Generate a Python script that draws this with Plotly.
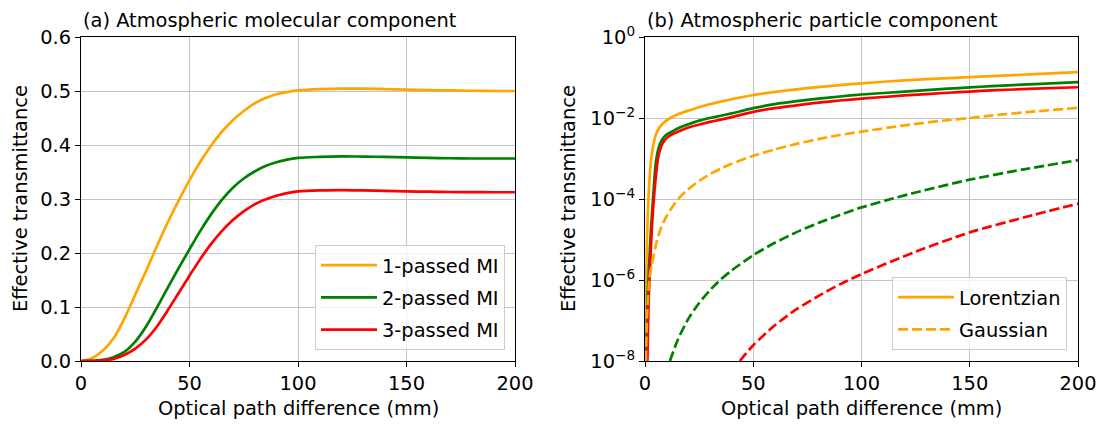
import plotly.graph_objects as go

# ---------------- (a) molecular component ----------------
opd_a = [0, 5, 10, 15, 20, 25, 30, 35, 40, 45, 50, 55, 60, 65, 70, 75, 80, 85, 90, 95,
         100, 110, 120, 130, 140, 150, 160, 170, 180, 190, 200]
mi1 = [0, 0.005, 0.019, 0.042, 0.079, 0.123, 0.167, 0.213, 0.257, 0.297, 0.335, 0.369, 0.399,
       0.425, 0.446, 0.463, 0.477, 0.487, 0.494, 0.498, 0.501, 0.5035, 0.5045, 0.5043, 0.5035,
       0.5025, 0.5015, 0.501, 0.5005, 0.5, 0.5]
mi2 = [0, 0.0003, 0.002, 0.007, 0.017, 0.036, 0.064, 0.099, 0.136, 0.172, 0.207, 0.241, 0.272,
       0.299, 0.321, 0.338, 0.351, 0.361, 0.368, 0.373, 0.376, 0.378, 0.379, 0.3785, 0.378,
       0.377, 0.376, 0.3755, 0.375, 0.375, 0.375]
mi3 = [0, 0.0002, 0.001, 0.004, 0.011, 0.023, 0.04, 0.064, 0.094, 0.126, 0.158, 0.189, 0.217,
       0.241, 0.261, 0.277, 0.29, 0.299, 0.306, 0.311, 0.314, 0.316, 0.3165, 0.316, 0.315,
       0.314, 0.3135, 0.313, 0.3128, 0.3125, 0.3125]
names_a = ["1-passed MI", "2-passed MI", "3-passed MI"]

# ---------------- (b) particle component ----------------
lor1_x = [0.3, 0.6, 1.1, 1.7, 2.8, 4, 5.5, 7.1, 9, 11.7, 15, 20, 26, 30, 40, 50, 60, 70, 80,
          90, 100, 120, 140, 150, 160, 180, 200]
lor1_y = [1e-8, 1.6e-6, 2e-5, 1.4e-4, 9.3e-4, 2.4e-3, 4.5e-3, 6.2e-3, 8e-3, 1.0e-2, 1.22e-2,
          1.52e-2, 1.93e-2, 2.2e-2, 2.9e-2, 3.7e-2, 4.4e-2, 5.1e-2, 5.8e-2, 6.5e-2, 7.2e-2,
          8.5e-2, 9.7e-2, 0.102, 0.108, 0.121, 0.135]
lor2_x = [0.5, 1.2, 2.0, 2.8, 3.7, 5, 6.5, 8, 10, 13, 16, 20, 25, 30, 35, 40, 50, 60, 70, 80,
          90, 100, 120, 140, 150, 160, 180, 200]
lor2_y = [1e-8, 4e-7, 3e-6, 2e-5, 1e-4, 8e-4, 2e-3, 3e-3, 3.9e-3, 4.8e-3, 5.8e-3, 7.0e-3,
          8.6e-3, 1.0e-2, 1.14e-2, 1.3e-2, 1.75e-2, 2.2e-2, 2.6e-2, 3.0e-2, 3.4e-2, 3.8e-2,
          4.5e-2, 5.3e-2, 5.7e-2, 6.1e-2, 6.9e-2, 7.7e-2]
lor3_x = [1.1, 1.4, 1.8, 2.5, 3.2, 4.3, 6, 7.5, 9, 10.5, 13, 16, 20, 26, 30, 35, 40, 50, 60,
          70, 80, 90, 100, 120, 140, 150, 160, 180, 200]
lor3_y = [1e-8, 7e-8, 4.7e-7, 3.2e-6, 2.1e-5, 1.4e-4, 1e-3, 2e-3, 2.8e-3, 3.4e-3, 4.1e-3,
          4.8e-3, 5.8e-3, 7.1e-3, 8e-3, 9.1e-3, 1.05e-2, 1.42e-2, 1.75e-2, 2.05e-2, 2.4e-2,
          2.7e-2, 3.0e-2, 3.6e-2, 4.2e-2, 4.5e-2, 4.8e-2, 5.3e-2, 5.75e-2]
gau1_x = [0.4, 1.0, 2.0, 3.1, 5.4, 7.5, 10, 13, 16, 20, 25, 30, 35, 40, 50, 60, 70, 80, 90,
          100, 120, 140, 150, 160, 180, 200]
gau1_y = [1e-8, 1.5e-7, 1e-6, 2.3e-6, 8.8e-6, 2e-5, 3.8e-5, 6.8e-5, 1.1e-4, 1.74e-4, 2.8e-4,
          4.1e-4, 5.6e-4, 7.4e-4, 1.17e-3, 1.68e-3, 2.3e-3, 3.0e-3, 3.8e-3, 4.6e-3, 6.6e-3,
          8.9e-3, 1.0e-2, 1.15e-2, 1.45e-2, 1.78e-2]
gau2_x = [11.5, 15, 20, 25, 30, 35, 40, 50, 60, 70, 80, 90, 100, 115, 125, 150, 175, 200]
gau2_y = [1e-8, 3.2e-8, 1.1e-7, 2.7e-7, 5.6e-7, 1.03e-6, 1.72e-6, 4.1e-6, 8.3e-6, 1.52e-5,
          2.55e-5, 4.05e-5, 6.2e-5, 1.05e-4, 1.45e-4, 3e-4, 5.4e-4, 9.1e-4]
gau3_x = [43.8, 50, 60, 70, 80, 90, 100, 125, 150, 175, 200]
gau3_y = [1e-8, 2.45e-8, 7.6e-8, 1.9e-7, 4.0e-7, 7.8e-7, 1.4e-6, 5e-6, 1.5e-5, 3.5e-5, 7.7e-5]

colors = ["#FFA500", "#008000", "#FF0000"]
FONT = "DejaVu Sans"
FS = 19.4
LW = 2.7
DASH = "10px,4px"

fig = go.Figure()

for i, (ys, nm) in enumerate(zip([mi1, mi2, mi3], names_a)):
    fig.add_trace(go.Scatter(x=opd_a, y=ys, mode="lines", name=nm,
                             line=dict(color=colors[i], width=LW, shape="spline", smoothing=1.0),
                             xaxis="x", yaxis="y", legend="legend", legendgroup=f"a{i}"))

lor = [(lor1_x, lor1_y), (lor2_x, lor2_y), (lor3_x, lor3_y)]
gau = [(gau1_x, gau1_y), (gau2_x, gau2_y), (gau3_x, gau3_y)]
for i, (xs, ys) in enumerate(lor):
    fig.add_trace(go.Scatter(x=xs, y=ys, mode="lines", name="Lorentzian",
                             line=dict(color=colors[i], width=LW, shape="spline", smoothing=0.5),
                             xaxis="x2", yaxis="y2", legend="legend2",
                             legendgroup="lor", showlegend=(i == 0)))
for i, (xs, ys) in enumerate(gau):
    fig.add_trace(go.Scatter(x=xs, y=ys, mode="lines", name="Gaussian",
                             line=dict(color=colors[i], width=LW, dash=DASH,
                                       shape="spline", smoothing=0.7),
                             xaxis="x2", yaxis="y2", legend="legend2",
                             legendgroup="gau", showlegend=(i == 0)))

# page offset of the plot div (default body margin) is 8 px
OFF = 8
W, H = 1105 - OFF, 425 - OFF


def fx(p):
    return (p - OFF) / W


def fy(p):
    return 1 - (p - OFF) / H


ax_l, ax_r = 81, 515
bx_l, bx_r = 645, 1078
top, bot = 37, 361
ydom = [fy(bot), fy(top)]

axis_common = dict(showline=True, linecolor="black", linewidth=1.1, mirror=True,
                   ticks="outside", ticklen=5, tickwidth=1.1, tickcolor="black",
                   showgrid=True, gridcolor="#c4c4c4", gridwidth=1.1, zeroline=False,
                   automargin=False,
                   tickfont=dict(family=FONT, size=FS, color="black"))

fig.update_layout(
    template="none",
    width=W, height=H, margin=dict(l=0, r=0, t=0, b=0, pad=0),
    paper_bgcolor="white", plot_bgcolor="white",
    font=dict(family=FONT, size=FS, color="black"),
    xaxis=dict(domain=[fx(ax_l), fx(ax_r)], range=[0, 200], tickvals=[0, 50, 100, 150, 200],
               anchor="y", **axis_common),
    yaxis=dict(domain=ydom, range=[0, 0.6], tickvals=[0, 0.1, 0.2, 0.3, 0.4, 0.5, 0.6],
               tickformat=".1f", anchor="x", **axis_common),
    xaxis2=dict(domain=[fx(bx_l), fx(bx_r)], range=[0, 200], tickvals=[0, 50, 100, 150, 200],
                anchor="y2", **axis_common),
    yaxis2=dict(domain=ydom, type="log", range=[-8, 0],
                tickvals=[1e-8, 1e-6, 1e-4, 1e-2, 1],
                ticktext=["10<sup>\u22128</sup>", "10<sup>\u22126</sup>", "10<sup>\u22124</sup>",
                          "10<sup>\u22122</sup>", "10<sup>0</sup>"],
                anchor="x2", **axis_common),
    legend=dict(x=fx(505), y=fy(350), xanchor="right", yanchor="bottom",
                bgcolor="rgba(255,255,255,0.8)", bordercolor="#cccccc", borderwidth=1,
                font=dict(family=FONT, size=FS), itemwidth=56, tracegroupgap=4),
    legend2=dict(x=fx(1067), y=fy(350), xanchor="right", yanchor="bottom",
                 bgcolor="rgba(255,255,255,0.8)", bordercolor="#cccccc", borderwidth=1,
                 font=dict(family=FONT, size=FS), itemwidth=56, tracegroupgap=4),
    showlegend=True,
)

ann = []
for (l, r, title) in [(ax_l, ax_r, "(a) Atmospheric molecular component"),
                      (bx_l, bx_r, "(b) Atmospheric particle component")]:
    ann.append(dict(text=title, x=fx(l), y=fy(20), xref="paper", yref="paper",
                    xanchor="left", yanchor="middle", showarrow=False,
                    font=dict(family=FONT, size=FS)))
    ann.append(dict(text="Optical path difference (mm)", x=fx((l + r) / 2), y=fy(408),
                    xref="paper", yref="paper", xanchor="center", yanchor="middle",
                    showarrow=False, font=dict(family=FONT, size=FS)))
for xc in [20, 568]:
    ann.append(dict(text="Effective transmittance", x=fx(xc), y=fy(199),
                    xref="paper", yref="paper", xanchor="center", yanchor="middle",
                    textangle=-90, showarrow=False, font=dict(family=FONT, size=FS)))
fig.update_layout(annotations=ann)

fig.write_html("out.html")
